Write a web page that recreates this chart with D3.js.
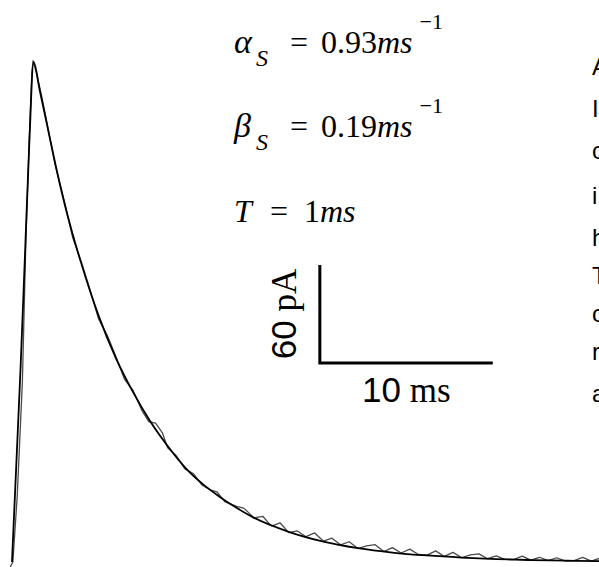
<!DOCTYPE html>
<meta charset="utf-8">
<style>
    body { margin: 0; background: #fff; }
    svg { display: block; }
    .eq { font-family: "Liberation Serif", "Times New Roman", serif; font-size: 32px; fill: #000; }
    .lab { font-family: "Liberation Serif", "Times New Roman", serif; font-size: 35px; fill: #000; }
    .sans { font-family: "Liberation Sans", Arial, sans-serif; }
    .side { font-family: "Liberation Sans", Arial, sans-serif; font-size: 24px; fill: #000; }
    .trace { fill: none; stroke: #4a4a4a; stroke-width: 1.3; stroke-linejoin: round; }
    .fit { fill: none; stroke: #000; stroke-width: 1.8; stroke-linejoin: round; }
    .bar { stroke: #000; stroke-width: 3; fill: none; }
</style>
<svg width="599" height="567"></svg>
<script src="https://cdn.jsdelivr.net/npm/d3@7/dist/d3.min.js"></script>
<script>

    // fitted kinetic model, ms / pA
    var fitTime = [0, 0.25, 0.5, 0.75, 1.0, 1.25, 1.6, 2, 2.5, 3, 3.5, 4, 5, 6, 7, 8, 9, 10, 11, 12,
        13, 14, 16, 18, 20, 22, 24, 26, 28, 30, 32, 34];
    var fitCurrent = [0, 60, 120, 188, 256, 306, 289, 269, 244, 221, 201, 183, 151, 125, 104, 86, 71, 58, 48, 40,
        33, 27, 18.5, 12.5, 8.5, 5.8, 4, 2.7, 1.8, 1.2, 0.8, 0.5];

    // recorded current
    var traceTime = [-0.1, 0.05, 0.3, 0.6, 0.8, 1.0, 1.15, 1.22, 1.4, 1.7, 2.0, 2.5, 3.0, 3.5, 4.0, 4.5,
        5.0, 5.5, 6.0, 6.5, 7.0, 7.5, 7.9, 8.3, 8.7, 9.0, 9.5, 10.0, 10.5, 11.0, 11.5, 11.85, 12.3,
        13.0, 13.4, 14.0, 14.5, 15.0, 15.5, 16.0, 16.5, 17.0, 17.5, 18.0, 18.5, 19.0, 19.5, 20.0,
        20.5, 21.0, 21.5, 22.0, 22.5, 23.0, 23.5, 24.0, 24.5, 25.0, 25.5, 26.0, 26.5, 27.0, 27.5,
        28.0, 28.5, 29.0, 29.5, 30.0, 30.5, 31.0, 31.5, 32.0, 32.5, 33.0, 33.5, 34.0];
    var traceCurrent = [-3, 0, 40, 110, 196, 260, 300, 307, 300, 286, 270, 243, 222, 199, 184, 167,
        149, 139, 126, 112, 105, 93, 86, 85, 79, 70, 65, 57, 54, 47, 44, 43, 37,
        34, 33, 27, 28, 22, 24, 18, 19, 15.5, 17.8, 12.8, 14.6, 10.5, 12.4, 8.2,
        9.9, 10.6, 6.4, 8.8, 5.5, 7.9, 4.6, 4.2, 6.8, 3.4, 5.9, 2.6, 4.4, 5.0, 2.0,
        3.8, 1.6, 1.4, 3.6, 1.2, 2.9, 0.9, 2.6, 0.6, 0.9, 2.8, 0.5, 2.4];

    var paramSymbols = ["α", "β", "T"];
    var paramSubs = ["S", "S", ""];
    var paramValues = ["0.93", "0.19", "1"];
    var paramUnits = ["ms", "ms", "ms"];
    var paramExps = ["−1", "−1", ""];

    var barTime = 10, barCurrent = 60;
    var barTimeLabel = ["10", " ms"];
    var barCurrentLabel = ["60", " pA"];

    var sideLetters = ["A", "I", "c", "i", "h", "T", "c", "r", "a"];
    var sideBaselines = [75, 117, 159, 204, 246, 284, 322, 360, 402];

    var svg = d3.select("svg");

    var x = d3.scaleLinear().domain([0, 34]).range([12, 600]);
    var y = d3.scaleLinear().domain([0, 60]).range([562, 464]);

    var line = d3.line()
        .x(function (d) { return x(d[0]); })
        .y(function (d) { return y(d[1]); });

    svg.append("path")
        .attr("class", "trace")
        .attr("d", line(d3.zip(traceTime, traceCurrent)));

    svg.append("path")
        .attr("class", "fit")
        .attr("d", line.curve(d3.curveMonotoneX)(d3.zip(fitTime, fitCurrent)));

    // parameter lines
    var eq = svg.selectAll(".eq")
        .data(paramSymbols)
        .enter().append("text")
        .attr("class", "eq")
        .attr("y", function (d, i) { return [53, 137, 222][i]; });

    eq.each(function (d, i) {
        var t = d3.select(this);
        var base = +t.attr("y");
        t.append("tspan").attr("x", 234).attr("font-style", "italic")
            .attr("font-size", paramSubs[i] ? 34 : 32).text(d);
        if (paramSubs[i]) {
            t.append("tspan").attr("x", 256).attr("y", base + 13)
                .attr("font-size", 24).attr("font-style", "italic").text(paramSubs[i]);
        }
        var eqX = paramSubs[i] ? 290 : 270;
        t.append("tspan").attr("x", eqX).attr("y", base).text("=");
        t.append("tspan").attr("x", eqX + (paramSubs[i] ? 31 : 34)).text(paramValues[i]);
        t.append("tspan").attr("font-style", "italic").text(paramUnits[i]);
        if (paramExps[i]) {
            t.append("tspan").attr("dx", 7).attr("y", base - 24)
                .attr("font-size", 22).text(paramExps[i]);
        }
    });

    // scale bar
    var bx = 17.8, by = 121.9;
    svg.append("path")
        .attr("class", "bar")
        .attr("d", "M" + x(bx) + "," + y(by + barCurrent) +
            "V" + y(by) + "H" + x(bx + barTime));

    var vl = svg.append("text")
        .attr("class", "lab")
        .attr("text-anchor", "middle")
        .attr("transform", "translate(" + (x(bx) - 24) + "," + y(by + barCurrent / 2) + ") rotate(-90)");
    vl.append("tspan").attr("class", "sans").text(barCurrentLabel[0]);
    vl.append("tspan").text(barCurrentLabel[1]);

    var hl = svg.append("text")
        .attr("class", "lab")
        .attr("text-anchor", "middle")
        .attr("x", x(bx + barTime / 2))
        .attr("y", y(by) + 39);
    hl.append("tspan").attr("class", "sans").text(barTimeLabel[0]);
    hl.append("tspan").text(barTimeLabel[1]);

    // text running off the right edge
    svg.selectAll(".side")
        .data(sideLetters)
        .enter().append("text")
        .attr("class", "side")
        .attr("x", 592)
        .attr("y", function (d, i) { return sideBaselines[i]; })
        .text(function (d) { return d; });

</script>
